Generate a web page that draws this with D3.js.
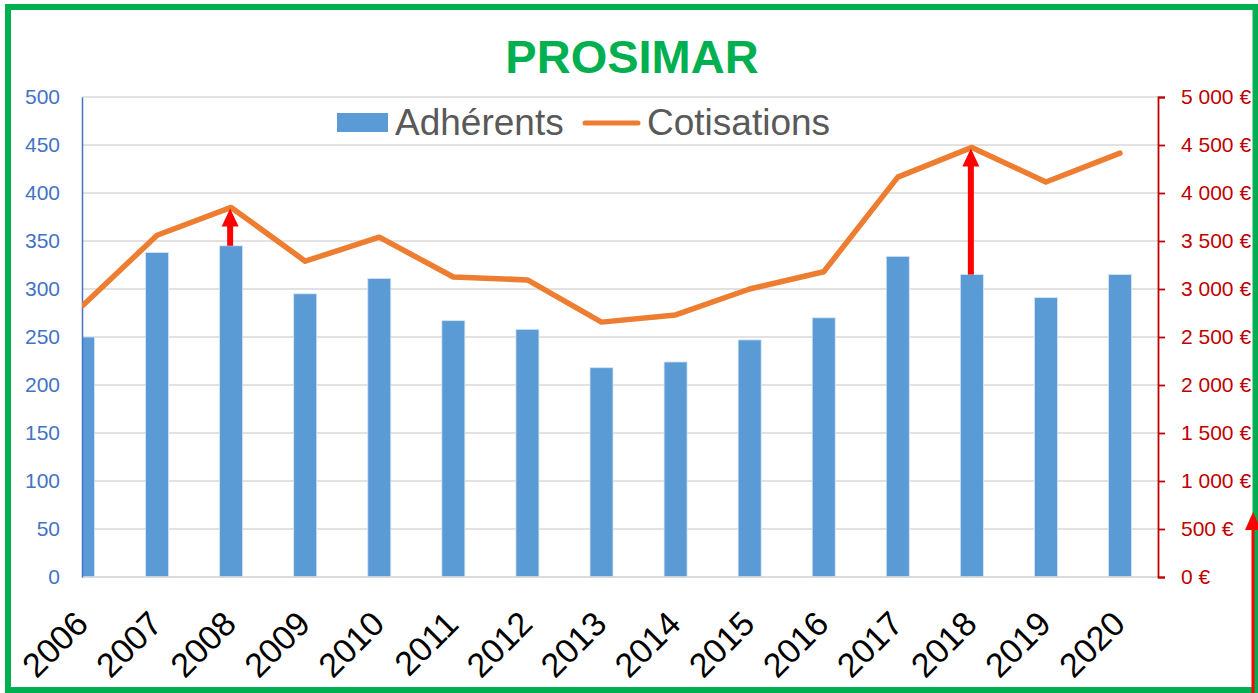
<!DOCTYPE html>
<meta charset="utf-8" />
<html>
  <head>
    <script src="https://d3js.org/d3.v7.min.js"></script>
    <style>
      body {
        margin: 0;
        background-color: white;
      }
    </style>
  </head>
  <body>
    <div id="chart"></div>
  </body>

  <script>
    // data
    const years = ["2006", "2007", "2008", "2009", "2010", "2011", "2012", "2013",
                   "2014", "2015", "2016", "2017", "2018", "2019", "2020"];
    const adherents = [250, 338, 345, 295, 311, 267, 258, 218, 224, 247, 270, 334, 315, 291, 315];
    const cotisations = [2830, 3560, 3850, 3290, 3540, 3125, 3095, 2655, 2730, 3000, 3180, 4165, 4475, 4115, 4415];
    const leftTicks = [0, 50, 100, 150, 200, 250, 300, 350, 400, 450, 500];
    const rightTicks = [0, 500, 1000, 1500, 2000, 2500, 3000, 3500, 4000, 4500, 5000];
    const arrowYears = ["2008", "2018"];
    const seriesNames = ["Adhérents", "Cotisations"];

    const width = 1258;
    const height = 693;
    const margin = ({top: 97, right: 100, bottom: 116, left: 82});
    const font = "'Liberation Sans', Arial, sans-serif";

    const blue = "#5B9BD5";
    const orange = "#ED7D31";
    const green = "#00B050";
    const red = "#FF0000";
    const darkRed = "#C00000";
    const axisBlue = "#4472C4";

    const svg = d3.select("#chart").append("svg")
      .attr("width", width)
      .attr("height", height)
      .style("display", "block");

    svg.append("rect")
      .attr("width", width)
      .attr("height", height)
      .attr("fill", "white");

    const x = d3.scalePoint()
      .domain(years)
      .range([margin.left + 1, width - margin.right - 38]);

    const yL = d3.scaleLinear()
      .domain([0, 500])
      .range([height - margin.bottom, margin.top]);

    const yR = d3.scaleLinear()
      .domain([0, 5000])
      .range([height - margin.bottom, margin.top]);

    const plotRight = width - margin.right;
    const euro = d3.formatLocale({decimal: ",", thousands: "\u00a0", grouping: [3], currency: ["", "\u00a0€"]}).format("$,");

    // gridlines
    svg.append("g")
      .selectAll("line")
      .data(leftTicks)
      .join("line")
        .attr("x1", margin.left)
        .attr("x2", plotRight)
        .attr("y1", d => yL(d))
        .attr("y2", d => yL(d))
        .attr("stroke", "#D9D9D9")
        .attr("stroke-width", 1.5);

    // bars, clipped to the plot area (the 2006 bar is cut by the axis)
    svg.append("clipPath")
      .attr("id", "plot-clip")
      .append("rect")
        .attr("x", margin.left)
        .attr("y", 0)
        .attr("width", plotRight - margin.left)
        .attr("height", height);

    const barWidth = 23;
    svg.append("g")
      .attr("clip-path", "url(#plot-clip)")
      .selectAll("rect")
      .data(years)
      .join("rect")
        .attr("x", (d, i) => x(d) - barWidth / 2)
        .attr("y", (d, i) => yL(adherents[i]))
        .attr("width", barWidth)
        .attr("height", (d, i) => yL(0) - yL(adherents[i]))
        .attr("fill", blue)
        .attr("stroke", "#D6E4F3")
        .attr("stroke-width", 0.8);

    // bottom axis line
    svg.append("line")
      .attr("x1", margin.left)
      .attr("x2", plotRight)
      .attr("y1", yL(0))
      .attr("y2", yL(0))
      .attr("stroke", "#D9D9D9")
      .attr("stroke-width", 1.5);

    // left axis
    const yAxisL = g => g
      .attr("transform", `translate(${margin.left},0)`)
      .call(d3.axisLeft(yL).tickValues(leftTicks).tickSize(0).tickPadding(22))
      .call(g => g.select(".domain").attr("stroke", axisBlue).attr("stroke-width", 1.5))
      .call(g => g.selectAll("text")
        .attr("fill", axisBlue)
        .style("font-family", font)
        .style("font-size", "21px"));

    svg.append("g").call(yAxisL);

    // right axis
    const yAxisR = g => g
      .attr("transform", `translate(${plotRight},0)`)
      .call(d3.axisRight(yR).tickValues(rightTicks).tickSize(7).tickSizeOuter(7).tickPadding(16).tickFormat(euro))
      .call(g => g.select(".domain").attr("stroke", darkRed).attr("stroke-width", 1.8))
      .call(g => g.selectAll(".tick line").attr("stroke", darkRed).attr("stroke-width", 1.8))
      .call(g => g.selectAll("text")
        .attr("fill", darkRed)
        .style("font-family", font)
        .style("font-size", "21px"));

    svg.append("g").call(yAxisR);

    // x labels, rotated
    svg.append("g")
      .selectAll("text")
      .data(years)
      .join("text")
        .attr("transform", d => `translate(${x(d) + 7},${yL(0) + 49}) rotate(-45)`)
        .attr("text-anchor", "end")
        .style("font-family", font)
        .style("font-size", "34px")
        .attr("fill", "black")
        .text(d => d);

    // cotisations line
    const line = d3.line()
      .x((d, i) => x(years[i]))
      .y(d => yR(d));

    svg.append("path")
      .datum(cotisations)
      .attr("d", line)
      .attr("fill", "none")
      .attr("stroke", orange)
      .attr("stroke-width", 5.5)
      .attr("stroke-linejoin", "round")
      .attr("stroke-linecap", "round")
      .attr("clip-path", "url(#plot-clip)");

    // red arrows from bar top to the line point
    const arrow = (g, x0, yFrom, yTo, shaft, headW, headH) => {
      g.append("line")
        .attr("x1", x0).attr("x2", x0)
        .attr("y1", yFrom).attr("y2", yTo + headH - 1)
        .attr("stroke", red)
        .attr("stroke-width", shaft);
      g.append("path")
        .attr("d", `M${x0},${yTo} L${x0 + headW / 2},${yTo + headH} L${x0 - headW / 2},${yTo + headH} Z`)
        .attr("fill", red);
    };

    const arrows = svg.append("g");
    arrowYears.forEach(yr => {
      const i = years.indexOf(yr);
      arrow(arrows, x(yr) - 1, yL(adherents[i]), yR(cotisations[i]) + 1, 6, 17, 18);
    });

    // legend
    const legend = svg.append("g")
      .style("font-family", font)
      .style("font-size", "37px")
      .attr("fill", "#595959");

    legend.append("rect")
      .attr("x", 337).attr("y", 113)
      .attr("width", 51).attr("height", 19)
      .attr("fill", blue);
    legend.append("text")
      .attr("x", 395).attr("y", 135)
      .text(seriesNames[0]);

    legend.append("line")
      .attr("x1", 585).attr("x2", 638)
      .attr("y1", 123).attr("y2", 123)
      .attr("stroke", orange)
      .attr("stroke-width", 5)
      .attr("stroke-linecap", "round");
    legend.append("text")
      .attr("x", 647).attr("y", 135)
      .text(seriesNames[1]);

    // title
    svg.append("text")
      .attr("x", 632)
      .attr("y", 73)
      .attr("text-anchor", "middle")
      .style("font-family", font)
      .style("font-size", "47px")
      .style("font-weight", "bold")
      .attr("fill", green)
      .text("PROSIMAR");

    // green frame
    svg.append("rect")
      .attr("x", 8)
      .attr("y", 7)
      .attr("width", 1247.5)
      .attr("height", 683)
      .attr("fill", "none")
      .attr("stroke", green)
      .attr("stroke-width", 6);

    // stray red arrow at the right edge
    arrow(svg.append("g"), 1253, height, 512, 3, 16, 18);
  </script>
</html>
